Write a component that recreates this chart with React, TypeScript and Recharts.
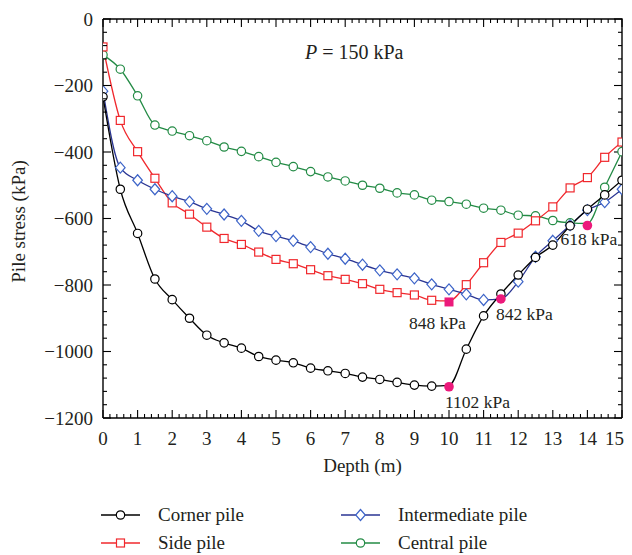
import React from 'react';
import { ComposedChart, Line, XAxis, YAxis, Scatter, ReferenceArea } from 'recharts';

const depths = [0, 0.5, 1, 1.5, 2, 2.5, 3, 3.5, 4, 4.5, 5, 5.5, 6, 6.5, 7, 7.5, 8, 8.5, 9, 9.5, 10, 10.5, 11, 11.5, 12, 12.5, 13, 13.5, 14, 14.5, 15];
const cornerPile = [-234, -512, -645, -782, -844, -900, -951, -974, -990, -1015, -1026, -1034, -1050, -1058, -1066, -1077, -1084, -1093, -1101, -1104, -1102, -993, -893, -827, -770, -717, -680, -622, -572, -529, -485];
const sidePile = [-84, -305, -399, -479, -553, -587, -626, -660, -678, -701, -723, -736, -754, -772, -783, -796, -813, -823, -830, -846, -848, -799, -733, -672, -644, -607, -565, -508, -477, -416, -370];
const intermediatePile = [-217, -447, -485, -512, -533, -549, -571, -588, -607, -637, -653, -667, -686, -706, -721, -739, -756, -768, -780, -798, -813, -828, -845, -842, -790, -715, -667, -620, -575, -551, -512];
const centralPile = [-108, -151, -231, -319, -337, -351, -366, -385, -398, -414, -431, -444, -459, -475, -487, -500, -509, -523, -529, -545, -549, -557, -569, -575, -590, -592, -606, -613, -615, -506, -399];

const peakSeries = ['corner', 'side', 'intermediate', 'central'];
const peakDepths = [10, 10, 11.5, 14];
const peakValues = [-1106, -851, -842, -621];
const peakLabels = ['1102 kPa', '848 kPa', '842 kPa', '618 kPa'];

const X_DOMAIN: [number, number] = [0, 15];
const Y_DOMAIN: [number, number] = [-1200, 0];

const xTicks: number[] = [];
for (let i = 0; i <= 75; i++) xTicks.push(Math.round(i * 0.2 * 10) / 10);
const yTicks: number[] = [];
for (let i = 0; i <= 30; i++) yTicks.push(-1200 + i * 40);

const seriesNames: Record<string, string> = {
  corner: 'Corner pile',
  side: 'Side pile',
  intermediate: 'Intermediate pile',
  central: 'Central pile',
};

const data = depths.map((d, i) => ({
  depth: d,
  corner: cornerPile[i],
  side: sidePile[i],
  intermediate: intermediatePile[i],
  central: centralPile[i],
}));

const peaks = peakDepths.map((d, i) => ({
  depth: d,
  value: peakValues[i],
  series: peakSeries[i],
  label: peakLabels[i],
}));

if (typeof document !== 'undefined') {
  document.body.style.overflow = 'hidden';
}

const FONT = '"Liberation Serif", "DejaVu Serif", serif';
const MAGENTA = '#ec1a7b';
const W = 616;
const H = 547;
const MARGIN = { top: 11, right: 2, bottom: 107, left: 35 };
const Y_AXIS_W = 60;
const X_AXIS_H = 30;

const styles: Record<string, { line: string; marker: string; shape: string }> = {
  corner: { line: '#000000', marker: '#000000', shape: 'circle' },
  side: { line: '#f0282d', marker: '#f0282d', shape: 'square' },
  intermediate: { line: '#2a3593', marker: '#3d64c8', shape: 'diamond' },
  central: { line: '#238b45', marker: '#238b45', shape: 'circle' },
};

const labelOffsets: Record<string, { dx: number; dy: number }> = {
  corner: { dx: -4, dy: 21 },
  side: { dx: -40, dy: 27 },
  intermediate: { dx: -5, dy: 21 },
  central: { dx: -27, dy: 20 },
};

function MarkerShape({ shape, cx, cy, stroke, fill }: any) {
  if (shape === 'square') {
    return <rect x={cx - 4} y={cy - 4} width={8} height={8} fill={fill} stroke={stroke} strokeWidth={1.2} />;
  }
  if (shape === 'diamond') {
    return (
      <polygon
        points={`${cx},${cy - 5.5} ${cx + 4.8},${cy} ${cx},${cy + 5.5} ${cx - 4.8},${cy}`}
        fill={fill}
        stroke={stroke}
        strokeWidth={1.2}
      />
    );
  }
  return <circle cx={cx} cy={cy} r={4.2} fill={fill} stroke={stroke} strokeWidth={1.2} />;
}

const makeDot = (key: string) => (props: any) => {
  const { cx, cy, payload, index } = props;
  const isPeak = peaks.some((p) => p.series === key && p.depth === payload.depth);
  if (isPeak || cx == null || cy == null) return <g key={`${key}-dot-${index}`} />;
  const st = styles[key];
  return (
    <g key={`${key}-dot-${index}`}>
      <MarkerShape shape={st.shape} cx={cx} cy={cy} stroke={st.marker} fill="#ffffff" />
    </g>
  );
};

const PeakShape = (props: any) => {
  const { cx, cy, payload } = props;
  const off = labelOffsets[payload.series];
  const shape = payload.series === 'side' ? 'square' : 'circle';
  return (
    <g>
      {shape === 'square' ? (
        <rect x={cx - 4.5} y={cy - 4.5} width={9} height={9} fill={MAGENTA} />
      ) : (
        <circle cx={cx} cy={cy} r={4.8} fill={MAGENTA} />
      )}
      <text x={cx + off.dx} y={cy + off.dy} fontFamily={FONT} fontSize={17.5} fill="#231f20">
        {payload.label}
      </text>
    </g>
  );
};

const isMajorX = (v: number) => Math.abs(v - Math.round(v)) < 1e-6;
const isMajorY = (v: number) => Math.abs(v % 200) < 1e-6;
const fmtY = (v: number) => (v < 0 ? '\u2212' + Math.abs(v) : String(v));

const BottomTick = (props: any) => {
  const { x, y, payload } = props;
  const major = isMajorX(payload.value);
  const last = payload.value === X_DOMAIN[1];
  return (
    <g>
      <line x1={x} x2={x} y1={y} y2={y - (major ? 8 : 4)} stroke="#000" strokeWidth={1.1} />
      {major && (
        <text
          x={last ? x + 2 : x}
          y={y + 27}
          textAnchor={last ? 'end' : 'middle'}
          fontFamily={FONT}
          fontSize={19}
          fill="#231f20"
        >
          {payload.value}
        </text>
      )}
    </g>
  );
};

const LeftTick = (props: any) => {
  const { x, y, payload } = props;
  const major = isMajorY(payload.value);
  return (
    <g>
      <line x1={x} x2={x + (major ? 8 : 4)} y1={y} y2={y} stroke="#000" strokeWidth={1.1} />
      {major && (
        <text x={x - 10} y={y} dy="0.35em" textAnchor="end" fontFamily={FONT} fontSize={19} fill="#231f20">
          {fmtY(payload.value)}
        </text>
      )}
    </g>
  );
};

const XTitle = (props: any) => {
  const vb = props.viewBox;
  return (
    <text x={vb.x + vb.width / 2} y={vb.y + 54} textAnchor="middle" fontFamily={FONT} fontSize={19} fill="#231f20">
      Depth (m)
    </text>
  );
};

const YTitle = (props: any) => {
  const vb = props.viewBox;
  const cx = 10;
  const cy = vb.y + vb.height / 2 + 3;
  return (
    <text
      x={cx}
      y={cy}
      transform={`rotate(-90, ${cx}, ${cy})`}
      textAnchor="middle"
      dominantBaseline="central"
      fontFamily={FONT}
      fontSize={19}
      fill="#231f20"
    >
      Pile stress (kPa)
    </text>
  );
};

// Box frame drawn through the chart's own scales (ReferenceArea over the full domain),
// with inward ticks on the top and right edges.
const FrameBox = (props: any) => {
  const { x, y, width, height } = props;
  if (x == null || y == null || width == null || height == null) return null;
  const left = Math.min(x, x + width);
  const right = Math.max(x, x + width);
  const top = Math.min(y, y + height);
  const bottom = Math.max(y, y + height);
  const xPx = (v: number) => left + ((v - X_DOMAIN[0]) / (X_DOMAIN[1] - X_DOMAIN[0])) * (right - left);
  const yPx = (v: number) => bottom - ((v - Y_DOMAIN[0]) / (Y_DOMAIN[1] - Y_DOMAIN[0])) * (bottom - top);
  return (
    <g>
      <path d={`M${left},${top}L${right},${top}L${right},${bottom}`} fill="none" stroke="#000" strokeWidth={1.4} />
      {xTicks.map((v) => (
        <path key={`t${v}`} d={`M${xPx(v)},${top}L${xPx(v)},${top + (isMajorX(v) ? 8 : 4)}`} stroke="#000" strokeWidth={1.1} />
      ))}
      {yTicks.map((v) => (
        <path key={`r${v}`} d={`M${right},${yPx(v)}L${right - (isMajorY(v) ? 8 : 4)},${yPx(v)}`} stroke="#000" strokeWidth={1.1} />
      ))}
    </g>
  );
};

const legendItems = [
  { key: 'corner', x: 93, y: 507 },
  { key: 'side', x: 93, y: 535 },
  { key: 'intermediate', x: 333, y: 507 },
  { key: 'central', x: 333, y: 535 },
];

export default function App() {
  return (
    <div style={{ position: 'relative', width: W, height: H }}>
      <ComposedChart width={W} height={H} data={data} margin={MARGIN}>
        <XAxis
          dataKey="depth"
          type="number"
          domain={X_DOMAIN}
          ticks={xTicks}
          interval={0}
          tickSize={0}
          tickMargin={0}
          tickLine={false}
          tick={<BottomTick />}
          axisLine={{ stroke: '#000', strokeWidth: 1.4 }}
          height={X_AXIS_H}
          allowDataOverflow
          label={<XTitle />}
        />
        <YAxis
          type="number"
          domain={Y_DOMAIN}
          ticks={yTicks}
          interval={0}
          tickSize={0}
          tickMargin={0}
          tickLine={false}
          tick={<LeftTick />}
          axisLine={{ stroke: '#000', strokeWidth: 1.4 }}
          width={Y_AXIS_W}
          allowDataOverflow
          label={<YTitle />}
        />
        <ReferenceArea
          x1={X_DOMAIN[0]}
          x2={X_DOMAIN[1]}
          y1={Y_DOMAIN[0]}
          y2={Y_DOMAIN[1]}
          ifOverflow="visible"
          fill="none"
          stroke="none"
          shape={(p: any) => <FrameBox {...p} />}
        />
        {['central', 'side', 'intermediate', 'corner'].map((k) => (
          <Line
            key={k}
            dataKey={k}
            name={seriesNames[k]}
            type="monotone"
            stroke={styles[k].line}
            strokeWidth={1.3}
            dot={makeDot(k)}
            activeDot={false}
            isAnimationActive={false}
          />
        ))}
        <Scatter data={peaks} dataKey="value" shape={<PeakShape />} isAnimationActive={false} />
      </ComposedChart>
      <svg
        width={W}
        height={H}
        style={{ position: 'absolute', left: 0, top: 0, pointerEvents: 'none', overflow: 'visible' }}
      >
        <text x={297} y={51} fontFamily={FONT} fontSize={20} fill="#231f20">
          <tspan fontStyle="italic">P</tspan>
          <tspan> = 150 kPa</tspan>
        </text>
        {legendItems.map((it) => {
          const st = styles[it.key];
          return (
            <g key={it.key}>
              <line x1={it.x} x2={it.x + 39} y1={it.y} y2={it.y} stroke={st.line} strokeWidth={1.4} />
              <MarkerShape shape={st.shape} cx={it.x + 19.5} cy={it.y} stroke={st.marker} fill="#ffffff" />
              <text x={it.x + 57} y={it.y + 6} fontFamily={FONT} fontSize={19} fill="#231f20">
                {seriesNames[it.key]}
              </text>
            </g>
          );
        })}
      </svg>
    </div>
  );
}
